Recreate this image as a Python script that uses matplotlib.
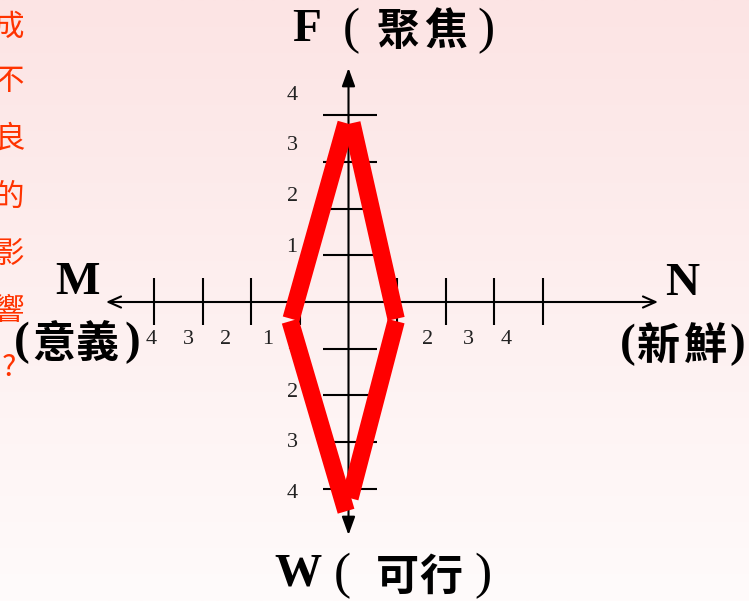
import numpy as np
import matplotlib.pyplot as plt

# tick values on both axes (drawn on both sides of the origin)
tick_vals = np.array([1, 2, 3, 4])
tick_labels = ['1', '2', '3', '4']

# where the little number labels sit (axis units)
h_label_left_x = [-1.66, -2.52, -3.30, -4.06]
h_label_right_x = [0.92, 1.62, 2.46, 3.24]
h_label_y = -0.81
v_label_x = -1.16
v_label_up_y = [1.16, 2.25, 3.36, 4.43]
v_label_down_y = [-0.92, -1.93, -3.00, -4.09]

# red diamond, drawn as four separate strokes
seg_x = [[-1.18, -0.05], [0.07, 0.98], [-1.20, -0.05], [0.98, 0.03]]
seg_y = [[-0.36, 3.83], [3.83, -0.36], [-0.41, -4.48], [-0.41, -4.20]]

side_chars = ['成', '不', '良', '的', '影', '響', '?']

# pixel -> axis units
ox, oy = 348.5, 302.0
ux, uy = 48.6, 46.7
W, H = 749, 601

fig = plt.figure(figsize=(W / 100, H / 100), dpi=100)
ax = fig.add_axes([0, 0, 1, 1])
ax.set_xlim((0 - ox) / ux, (W - ox) / ux)
ax.set_ylim((oy - H) / uy, oy / uy)
ax.axis('off')

# soft pink -> white background
grad = np.linspace(0, 1, 256)[:, None]
top = np.array([252, 228, 228]) / 255
bot = np.array([255, 251, 251]) / 255
bg = top[None, None, :] * (1 - grad[:, :, None]) + bot[None, None, :] * grad[:, :, None]
ax.imshow(bg, extent=[*ax.get_xlim(), *ax.get_ylim()], aspect='auto', zorder=0)

# axes with arrow heads
ax.annotate('', xy=((106 - ox) / ux, 0), xytext=((658 - ox) / ux, 0),
            arrowprops=dict(arrowstyle='<->, head_length=0.9, head_width=0.4',
                            lw=1.5, color='black', shrinkA=0, shrinkB=0), zorder=2)
ax.annotate('', xy=(0, (oy - 68) / uy), xytext=(0, (oy - 535) / uy),
            arrowprops=dict(arrowstyle='<|-|>, head_length=1.1, head_width=0.4',
                            lw=1.5, color='black', shrinkA=0, shrinkB=0), zorder=2)

# tick marks
ax.vlines(np.concatenate([-tick_vals, tick_vals]), -0.49, 0.51, color='black', lw=1.5, zorder=2)
ax.hlines(np.concatenate([-tick_vals, tick_vals]), -0.52, 0.59, color='black', lw=1.5, zorder=2)

num_font = dict(family='Liberation Serif', fontsize=16, color='#222222', ha='center', va='center', zorder=2)
for lab, x in zip(tick_labels, h_label_left_x):
    ax.text(x, h_label_y, lab, **num_font)
for lab, x in zip(tick_labels, h_label_right_x):
    ax.text(x, h_label_y, lab, **num_font)
for lab, y in zip(tick_labels, v_label_up_y):
    ax.text(v_label_x, y, lab, **num_font)
for lab, y in zip(tick_labels, v_label_down_y):
    ax.text(v_label_x, y, lab, **num_font)

# the red diamond
for xs, ys in zip(seg_x, seg_y):
    ax.plot(xs, ys, color='#ff0000', lw=12.5, solid_capstyle='butt', zorder=3)

# big axis names, placed glyph by glyph (spacing in the slide is loose)
serif_b = dict(family='Liberation Serif', fontweight='bold', fontsize=34)
serif_r = dict(family='Liberation Serif', fontweight='normal', fontsize=37)
cjk_b = dict(family='Noto Sans CJK TC', fontweight='bold', fontsize=31)
paren_b = dict(family='Liberation Serif', fontweight='bold', fontsize=34)

names = [
    # (text, x px, y px, style)
    ('F', 307, 30, serif_b), ('(', 351, 31, serif_r), ('聚', 398, 32, cjk_b),
    ('焦', 446, 32, cjk_b), (')', 486, 31, serif_r),
    ('W', 298, 575, serif_b), ('(', 342, 576, serif_r), ('可', 397, 577, cjk_b),
    ('行', 441, 577, cjk_b), (')', 483, 576, serif_r),
    ('M', 77, 283, serif_b),
    ('(', 22, 343, paren_b), ('意', 54, 344, cjk_b), ('義', 97, 344, cjk_b), (')', 132, 343, paren_b),
    ('N', 682, 284, serif_b),
    ('(', 628, 345, paren_b), ('新', 658, 346, cjk_b), ('鮮', 705, 346, cjk_b), (')', 737, 345, paren_b),
]
for txt, x, y, st in names:
    fig.text(x / W, 1 - y / H, txt, color='black', ha='center', va='center', **st)

# cut-off red text on the left edge
side_y = [27, 82, 139, 197, 254, 311, 368]
for ch, y in zip(side_chars, side_y):
    fig.text(9 / W, 1 - y / H, ch, fontsize=22, color='#ff3300',
             family=['Noto Sans CJK TC', 'Liberation Serif'], ha='center', va='center')

fig.savefig('out.png', dpi=100)
